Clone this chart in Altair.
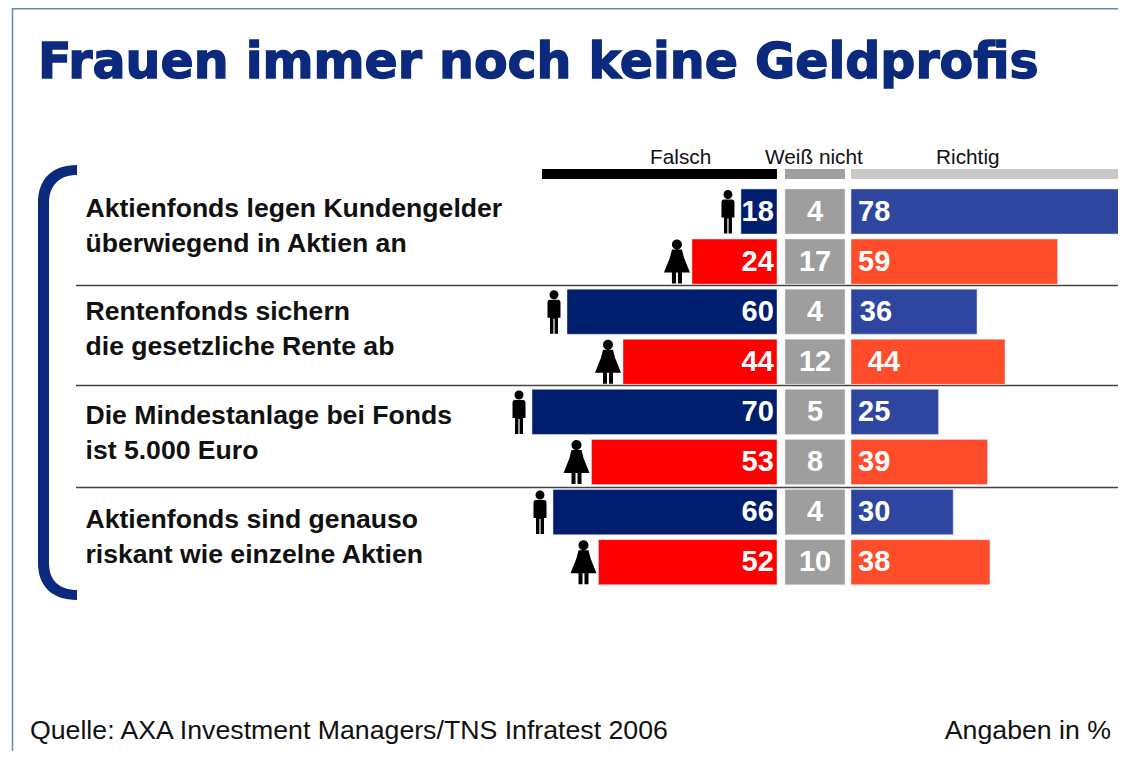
import altair as alt
import pandas as pd

TITLE = "Frauen immer noch keine Geldprofis"
QUESTIONS = [
    ["Aktienfonds legen Kundengelder", "überwiegend in Aktien an"],
    ["Rentenfonds sichern", "die gesetzliche Rente ab"],
    ["Die Mindestanlage bei Fonds", "ist 5.000 Euro"],
    ["Aktienfonds sind genauso", "riskant wie einzelne Aktien"],
]
HEADERS = ["Falsch", "Weiß nicht", "Richtig"]
SOURCE = "Quelle: AXA Investment Managers/TNS Infratest 2006"
UNIT = "Angaben in %"

gender = ["m", "f", "m", "f", "m", "f", "m", "f"]
falsch = [18, 24, 60, 44, 70, 53, 66, 52]
weiss = [4, 17, 4, 12, 5, 8, 4, 10]
richtig = [78, 59, 36, 44, 25, 39, 30, 38]
# drawn bar lengths (the source's first bar is shorter than its label)
falsch_len = [10.3, 24.3, 60, 44, 70, 53, 64, 51]
richtig_len = [78, 59, 36, 44, 25, 39, 29.2, 39.7]

W, H = 1110, 743
PX = 3.5
ZERO = 777 - 8
xscale = alt.Scale(domain=[-ZERO / PX, (W - ZERO) / PX], range=[0, W], nice=False, zero=False)
ROW0 = 211.5 - 8
STEP = 50.1
yscale = alt.Scale(domain=[-ROW0 / STEP, (H - ROW0) / STEP], range=[0, H], nice=False, zero=False)

GAP1, GAP2, GAP3 = 8 / PX, 68 / PX, 74 / PX
rows = list(range(8))
df = pd.DataFrame({
    "row": rows, "g": gender,
    "falsch": falsch, "weiss": weiss, "richtig": richtig,
    "fl": falsch_len, "rl": richtig_len,
})
df["y0"] = df.row - 0.45
df["y1"] = df.row + 0.45
df["f0"] = -df.fl
df["f1"] = 0.0
df["w0"] = GAP1
df["w1"] = GAP2
df["wc"] = (GAP1 + GAP2) / 2
df["r0"] = GAP3
df["r1"] = GAP3 + df.rl
df["rt"] = GAP3 + 2.0
df.loc[df.row == 3, "rt"] = GAP3 + 4.8
df.loc[df.row == 2, "rt"] = GAP3 + 2.5
df["ft"] = -0.9

X = lambda f: alt.X(f, type="quantitative", scale=xscale, axis=None)
Y = lambda f: alt.Y(f, type="quantitative", scale=yscale, axis=None)


def bars(x0, x1, color_m, color_f):
    return alt.Chart(df).mark_rect(stroke="#dfe3f0", strokeWidth=0.5).encode(
        x=X(x0), x2=alt.X2(x1), y=Y("y0"), y2=alt.Y2("y1"),
        color=alt.Color("g:N", scale=alt.Scale(domain=["m", "f"], range=[color_m, color_f]), legend=None),
    )


def values(field, xf, align):
    return alt.Chart(df).mark_text(
        font="Liberation Sans", fontWeight="bold", fontSize=29, color="white", align=align, baseline="middle", dy=0
    ).encode(x=X(xf), y=Y("row"), text=alt.Text(field, type="quantitative"))


def label(text, px, py, size, weight="normal", color="#111111", align="left", font="Liberation Sans", **kw):
    return alt.Chart(pd.DataFrame({"t": [text]})).mark_text(
        font=font, fontSize=size, fontWeight=weight, color=color, align=align, baseline="alphabetic", **kw
    ).encode(x=alt.value(px - 8), y=alt.value(py - 8), text="t:N")


def hrule(x1, x2, py, color, w):
    return alt.Chart(pd.DataFrame({"a": [0]})).mark_rule(color=color, strokeWidth=w).encode(
        x=alt.value(x1 - 8), x2=alt.value(x2 - 8), y=alt.value(py - 8)
    )


def vrule(px, y1, y2, color, w):
    return alt.Chart(pd.DataFrame({"a": [0]})).mark_rule(color=color, strokeWidth=w).encode(
        x=alt.value(px - 8), y=alt.value(y1 - 8), y2=alt.value(y2 - 8)
    )


MAN = ("M-4.5 -17a4.5 4.5 0 1 0 9 0a4.5 4.5 0 1 0 -9 0Z"
       "M-6.5 -9Q-6.5 -12 -4 -12L4 -12Q6.5 -12 6.5 -9L6.5 6L4 6L4 22L0.6 22L0.6 7L-0.6 7L-0.6 22L-4 22L-4 6L-6.5 6Z")
WOMAN = ("M-5 -17a5 5 0 1 0 10 0a5 5 0 1 0 -10 0Z"
         "M-5 -12L5 -12L7 -4L13 11L5 11L5 22L1 22L1 11L-1 11L-1 22L-5 22L-5 11L-13 11L-7 -4Z")
BRACKET = ("M39 -218L39 -208C22 -208 11 -198 11 -180L11 180C11 198 22 207 39 207L39 217"
           "C14 217 0 203 0 180L0 -180C0 -204 14 -218 39 -218Z")


def icons(g, shape, off):
    return alt.Chart(df[df.g == g]).mark_point(
        shape=shape, size=4, filled=True, opacity=1, color="#000000", strokeWidth=0, xOffset=off
    ).encode(x=X("f0"), y=Y("row"))


layers = [
    vrule(12.5, 8, 751, "#6d83bb", 1.5),
    hrule(12, 1118, 8.8, "#6d83bb", 1.5),
    label(TITLE, 38, 78, 49, "bold", "#0b2a7d", font="DejaVu Sans", stroke="#0b2a7d", strokeWidth=1.4),
    alt.Chart(pd.DataFrame({"a": [0]})).mark_point(
        shape=BRACKET, size=4, filled=True, opacity=1, color="#0b2a7d", strokeWidth=0
    ).encode(x=alt.value(38 - 8), y=alt.value(383 - 8)),
    label(HEADERS[0], 650, 164, 20.8),
    label(HEADERS[1], 765, 164, 20.8),
    label(HEADERS[2], 936, 164, 20.8),
    hrule(542, 777, 174, "#000000", 10),
    hrule(785, 845, 174, "#a0a0a0", 10),
    hrule(851, 1124, 174, "#c8c8c8", 10),
]
for py in [285.5, 385.5, 487.5]:
    layers.append(hrule(76, 1118, py, "#444444", 1.5))
for (l1, l2), b1 in zip(QUESTIONS, [217, 320, 424, 528]):
    layers.append(label(l1, 85.5, b1, 26.6, "bold"))
    layers.append(label(l2, 85.5, b1 + 35, 26.6, "bold"))
layers += [
    bars("f0", "f1", "#001e6e", "#ff0000"),
    bars("w0", "w1", "#9e9e9e", "#9e9e9e"),
    bars("r0", "r1", "#2f46a0", "#ff4c2b"),
    values("falsch", "ft", "right"),
    values("weiss", "wc", "center"),
    values("richtig", "rt", "left"),
    icons("m", MAN, -13),
    icons("f", WOMAN, -15),
    label(SOURCE, 30, 739, 26.7),
    label(UNIT, 1111, 739, 26.7, align="right"),
]

chart = alt.layer(*layers).resolve_scale(color="independent").properties(
    width=W, height=H, padding=0, autosize=alt.AutoSizeParams(type="none"), background="white"
).configure_view(stroke=None)

chart.save("out.html", embed_options={"renderer": "svg", "actions": False})
